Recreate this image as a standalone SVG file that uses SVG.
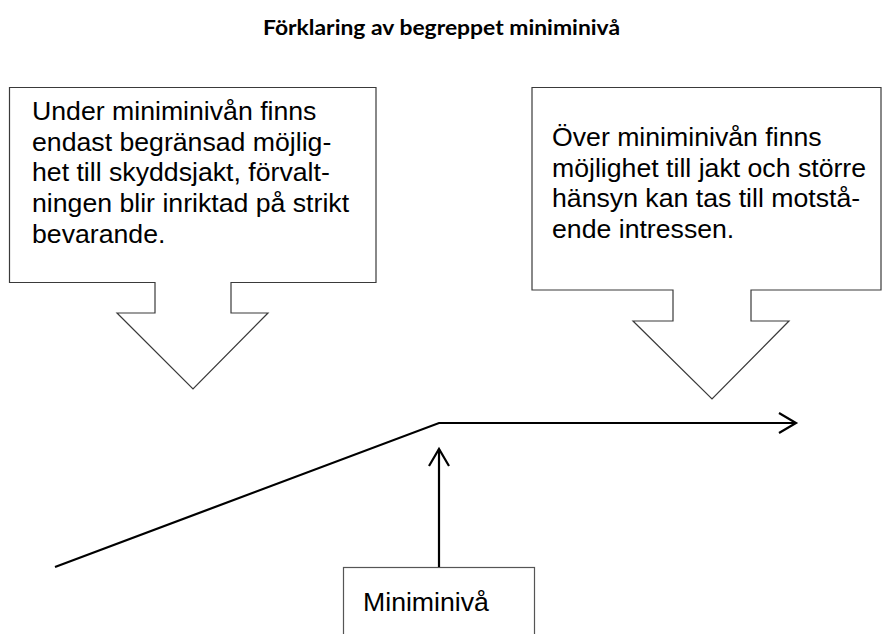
<svg xmlns="http://www.w3.org/2000/svg" width="882" height="634" viewBox="0 0 882 634">
  <style>
    .title { font-family: Lato, "Open Sans", "Liberation Sans", sans-serif; font-weight: bold; font-size: 20px; fill: #000; }
    .body { font-family: "Liberation Sans", Arial, sans-serif; font-size: 26.67px; fill: #000; }
    .callout { fill: #fff; stroke: #3a3a3a; stroke-width: 1.2; }
    .box { fill: #fff; stroke: #555; stroke-width: 1.2; }
    .line { fill: none; stroke: #000; stroke-width: 2.2; }
  </style>
  <defs>
    <marker id="open" markerUnits="userSpaceOnUse" markerWidth="22" markerHeight="24" refX="17" refY="11" orient="auto" overflow="visible">
      <path d="M0,1 L17,11 L0,21" fill="none" stroke="#000" stroke-width="2.2"/>
    </marker>
  </defs>
  <rect width="882" height="634" fill="#fff"/>

  <text class="title" x="263" y="35" textLength="357" lengthAdjust="spacingAndGlyphs">Förklaring av begreppet miniminivå</text>

  <g id="callout-under">
    <path class="callout" d="M9.5,87.5 H376 V282.5 H231 V313 H268 L193,389 L117,313 H155 V282.5 H9.5 Z"/>
    <text class="body" x="32" y="120">Under miniminivån finns</text>
    <text class="body" x="32" y="150.7">endast begränsad möjlig-</text>
    <text class="body" x="32" y="181.4">het till skyddsjakt, förvalt-</text>
    <text class="body" x="32" y="212.1">ningen blir inriktad på strikt</text>
    <text class="body" x="32" y="242.8">bevarande.</text>
  </g>

  <g id="callout-over">
    <path class="callout" d="M532,87.5 H881 V290 H751 V321 H789 L712,399 L633,321 H673 V290 H532 Z"/>
    <text class="body" x="552" y="146">Över miniminivån finns</text>
    <text class="body" x="552" y="176.7">möjlighet till jakt och större</text>
    <text class="body" x="552" y="207.4">hänsyn kan tas till motstå-</text>
    <text class="body" x="552" y="238.1">ende intressen.</text>
  </g>

  <g id="miniminiva">
    <rect class="box" x="343.5" y="567.5" width="191" height="80"/>
    <text class="body" x="363" y="611">Miniminivå</text>
  </g>

  <g id="connectors">
    <polyline class="line" points="55,567 439,423 796,423" marker-end="url(#open)"/>
    <line class="line" x1="439" y1="567" x2="439" y2="449" marker-end="url(#open)"/>
  </g>
</svg>
